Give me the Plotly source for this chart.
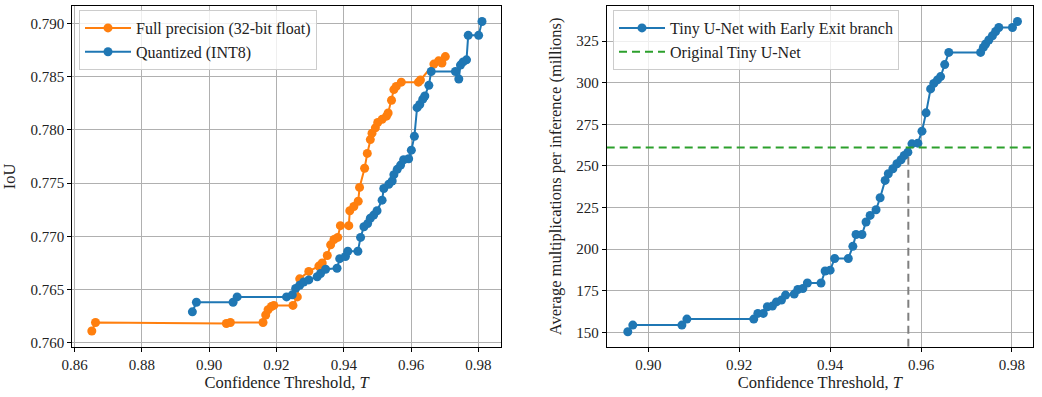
import plotly.graph_objects as go

# ---------------- data ----------------
# Left panel: IoU vs confidence threshold
fp_T = [0.8651, 0.8662, 0.9051, 0.9063, 0.9160, 0.9168, 0.9175, 0.9185, 0.9192,
        0.9249, 0.9262, 0.9269, 0.9296, 0.9326, 0.9336, 0.9351, 0.9361, 0.9371,
        0.9382, 0.9390, 0.9415, 0.9418, 0.9430, 0.9443, 0.9447, 0.9462, 0.9470,
        0.9479, 0.9484, 0.9494, 0.9501, 0.9514, 0.9527, 0.9532, 0.9542, 0.9549,
        0.9556, 0.9571, 0.9622, 0.9628, 0.9668, 0.9682, 0.9692, 0.9702]
fp_iou = [0.7611, 0.7619, 0.7618, 0.7619, 0.7619, 0.7626, 0.7631, 0.7634, 0.7635,
          0.7635, 0.7643, 0.7660, 0.7667, 0.7672, 0.7675, 0.7682, 0.7692, 0.7697,
          0.7699, 0.7710, 0.7710, 0.7724, 0.7728, 0.7733, 0.7746, 0.7764, 0.7778,
          0.7791, 0.7797, 0.7802, 0.7807, 0.7810, 0.7813, 0.7816, 0.7828, 0.7838,
          0.7841, 0.7845, 0.7845, 0.7847, 0.7862, 0.7865, 0.7863, 0.7869]

q_T = [0.8950, 0.8962, 0.9071, 0.9083, 0.9230, 0.9247, 0.9257, 0.9269, 0.9281,
       0.9296, 0.9321, 0.9331, 0.9346, 0.9380, 0.9388, 0.9405, 0.9412, 0.9442,
       0.9450, 0.9460, 0.9471, 0.9479, 0.9489, 0.9499, 0.9514, 0.9519, 0.9534,
       0.9544, 0.9549, 0.9559, 0.9569, 0.9578, 0.9593, 0.9601, 0.9610, 0.9618,
       0.9626, 0.9635, 0.9641, 0.9653, 0.9660, 0.9732, 0.9742, 0.9747, 0.9755,
       0.9765, 0.9770, 0.9801, 0.9811]
q_iou = [0.7629, 0.7638, 0.7638, 0.7643, 0.7643, 0.7645, 0.7651, 0.7654, 0.7657,
         0.7659, 0.7662, 0.7665, 0.7669, 0.7670, 0.7679, 0.7681, 0.7686, 0.7686,
         0.7699, 0.7709, 0.7712, 0.7717, 0.7720, 0.7724, 0.7734, 0.7745, 0.7749,
         0.7752, 0.7758, 0.7763, 0.7767, 0.7772, 0.7773, 0.7781, 0.7794, 0.7821,
         0.7824, 0.7829, 0.7832, 0.7842, 0.7855, 0.7855, 0.7848, 0.7861, 0.7864,
         0.7866, 0.7889, 0.7889, 0.7902]

# Right panel: average multiplications (millions) vs threshold
ee_T = [0.8955, 0.8966, 0.9074, 0.9085, 0.9232, 0.9241, 0.9253, 0.9262, 0.9273,
        0.9282, 0.9293, 0.9302, 0.9321, 0.9329, 0.9340, 0.9350, 0.9380, 0.9389,
        0.9400, 0.9410, 0.9440, 0.9450, 0.9457, 0.9470, 0.9479, 0.9488, 0.9501,
        0.9510, 0.9521, 0.9528, 0.9538, 0.9547, 0.9556, 0.9563, 0.9571, 0.9580,
        0.9593, 0.9602, 0.9611, 0.9621, 0.9628, 0.9636, 0.9643, 0.9652, 0.9661,
        0.9731, 0.9737, 0.9742, 0.9749, 0.9757, 0.9764, 0.9771, 0.9801, 0.9812]
ee_mults = [150.4, 154.4, 154.4, 158.0, 158.0, 161.4, 161.4, 165.4, 165.8,
            168.3, 169.4, 172.4, 173.0, 175.8, 176.4, 179.7, 179.7, 186.9,
            187.4, 194.4, 194.4, 201.7, 208.8, 208.8, 216.3, 220.3, 223.7,
            230.9, 241.3, 245.3, 248.3, 251.3, 253.7, 256.3, 258.3, 263.3,
            263.7, 270.9, 281.9, 296.3, 299.6, 301.7, 303.7, 310.9, 318.2,
            318.2, 321.2, 323.3, 325.7, 328.2, 330.8, 333.2, 333.2, 336.8]

baseline_mults = 261.1     # Original Tiny U-Net
T_cross = 0.9572           # threshold where early-exit equals baseline

left_xticks = [0.86, 0.88, 0.90, 0.92, 0.94, 0.96, 0.98]
left_yticks = [0.760, 0.765, 0.770, 0.775, 0.780, 0.785, 0.790]
right_xticks = [0.90, 0.92, 0.94, 0.96, 0.98]
right_yticks = [150, 175, 200, 225, 250, 275, 300, 325]

left_xrange = [0.8593, 0.98666]
left_yrange = [0.75962, 0.79166]
right_xrange = [0.89086, 0.98462]
right_yrange = [141.4, 346.1]

# ---------------- style ----------------
BLUE = "#1f77b4"
ORANGE = "#ff7f0e"
GREEN = "#2ca02c"
GRAY = "#7f7f7f"
FONT = "Liberation Serif"
FS = 15      # tick labels
FT = 16.5    # titles
FL = 16      # legend

fig = go.Figure()

fig.add_trace(go.Scatter(x=fp_T, y=fp_iou, mode="lines+markers",
                         name="Full precision (32-bit float)",
                         line=dict(color=ORANGE, width=2),
                         marker=dict(color=ORANGE, size=9),
                         xaxis="x", yaxis="y", legend="legend"))
fig.add_trace(go.Scatter(x=q_T, y=q_iou, mode="lines+markers",
                         name="Quantized (INT8)",
                         line=dict(color=BLUE, width=2),
                         marker=dict(color=BLUE, size=9),
                         xaxis="x", yaxis="y", legend="legend"))

fig.add_trace(go.Scatter(x=[T_cross, T_cross], y=[right_yrange[0], baseline_mults],
                         mode="lines", showlegend=False, hoverinfo="skip",
                         line=dict(color=GRAY, width=2, dash="8px,5px"),
                         xaxis="x2", yaxis="y2"))
fig.add_trace(go.Scatter(x=ee_T, y=ee_mults, mode="lines+markers",
                         name="Tiny U-Net with Early Exit branch",
                         line=dict(color=BLUE, width=2),
                         marker=dict(color=BLUE, size=9),
                         xaxis="x2", yaxis="y2", legend="legend2"))
fig.add_trace(go.Scatter(x=right_xrange, y=[baseline_mults, baseline_mults],
                         mode="lines", name="Original Tiny U-Net",
                         line=dict(color=GREEN, width=2, dash="8px,5px"),
                         xaxis="x2", yaxis="y2", legend="legend2"))

W, H = 1042, 397
ydom = [1 - 346.7 / H, 1 - 6 / H]

axis_common = dict(showline=True, linecolor="black", linewidth=1, mirror=True,
                   ticks="outside", ticklen=4, tickwidth=1, tickcolor="black",
                   showgrid=True, gridcolor="#b0b0b0", gridwidth=1,
                   zeroline=False, tickfont=dict(family=FONT, size=FS, color="#222"),
                   automargin=False)

legend_common = dict(bgcolor="rgba(255,255,255,0.8)", bordercolor="#cccccc",
                     borderwidth=1, font=dict(family=FONT, size=FL, color="#222"),
                     xanchor="left", yanchor="top", tracegroupgap=0, itemwidth=46)

fig.update_layout(
    width=W, height=H,
    margin=dict(l=0, r=0, t=0, b=0),
    paper_bgcolor="white", plot_bgcolor="white",
    font=dict(family=FONT, size=FS, color="#222"),
    xaxis=dict(domain=[72.3 / W, 500.7 / W], range=left_xrange,
               tickvals=left_xticks, ticktext=[f"{v:.2f}" for v in left_xticks],
               title=dict(text="Confidence Threshold, <i>T</i>", standoff=3,
                          font=dict(family=FONT, size=FT)),
               anchor="y", **axis_common),
    yaxis=dict(domain=ydom, range=left_yrange,
               tickvals=left_yticks, ticktext=[f"{v:.3f}" for v in left_yticks],
               title=dict(text="IoU", standoff=10, font=dict(family=FONT, size=FT)),
               anchor="x", **axis_common),
    xaxis2=dict(domain=[606.7 / W, 1033 / W], range=right_xrange,
                tickvals=right_xticks, ticktext=[f"{v:.2f}" for v in right_xticks],
                title=dict(text="Confidence Threshold, <i>T</i>", standoff=3,
                           font=dict(family=FONT, size=FT)),
                anchor="y2", **axis_common),
    yaxis2=dict(domain=ydom, range=right_yrange,
                tickvals=right_yticks, ticktext=[str(v) for v in right_yticks],
                title=dict(text="Average multiplications per inference (millions)",
                           standoff=10, font=dict(family=FONT, size=FT)),
                anchor="x2", **axis_common),
    legend=dict(x=79 / W, y=1 - 10 / H, xref="paper", yref="paper", **legend_common),
    legend2=dict(x=613 / W, y=1 - 10 / H, xref="paper", yref="paper", **legend_common),
    showlegend=True,
)

fig.write_html("out.html")
